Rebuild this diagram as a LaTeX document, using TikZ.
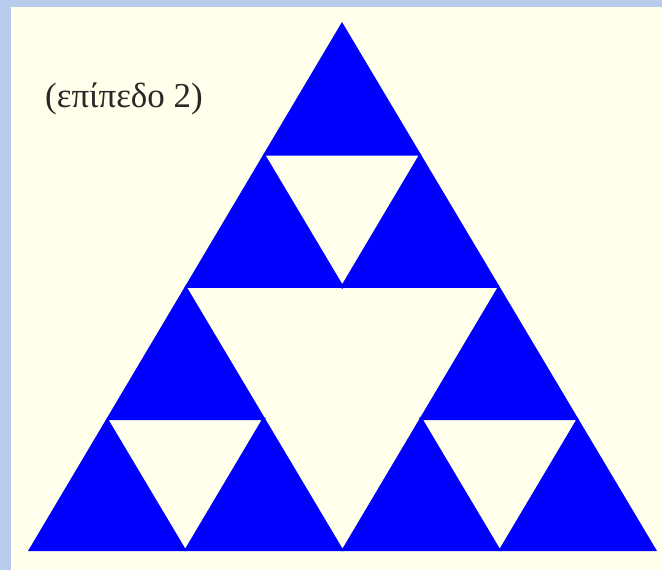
\documentclass[tikz,border=0pt]{standalone}
\usepackage{fontspec}
\setmainfont{Liberation Serif}
\usetikzlibrary{calc}
\definecolor{frameblue}{RGB}{184,204,236}
\definecolor{cream}{RGB}{255,255,236}
\definecolor{sblue}{RGB}{0,0,255}
\definecolor{txt}{RGB}{40,40,40}
\tikzset{
  hole/.style={fill=cream, draw=sblue, line width=2.5pt, line join=miter},
  solid/.style={fill=sblue}
}
\begin{document}
\begin{tikzpicture}[x=1pt,y=-1pt]
\useasboundingbox (0,0) rectangle (662,570);
\fill[frameblue] (0,0) rectangle (662,570);
\fill[cream] (11,7) rectangle (662,570);
% outer triangle
\coordinate (A) at (342,22);
\coordinate (B) at (28,551);
\coordinate (C) at (657,551);
\coordinate (ab) at ($(A)!0.5!(B)$);
\coordinate (bc) at ($(B)!0.5!(C)$);
\coordinate (ca) at ($(C)!0.5!(A)$);
\fill[solid] (A) -- (B) -- (C) -- cycle;
\begin{scope}
\clip (A) -- (B) -- (C) -- cycle;
% level 1 hole
\draw[hole] (ab) -- (bc) -- (ca) -- cycle;
% level 2 holes
\draw[hole] ($(A)!0.5!(ab)$) -- ($(ab)!0.5!(ca)$) -- ($(ca)!0.5!(A)$) -- cycle;
\draw[hole] ($(ab)!0.5!(B)$) -- ($(B)!0.5!(bc)$) -- ($(bc)!0.5!(ab)$) -- cycle;
\draw[hole] ($(ca)!0.5!(bc)$) -- ($(bc)!0.5!(C)$) -- ($(C)!0.5!(ca)$) -- cycle;
\end{scope}
\node[text=txt, font=\fontsize{35}{40}\selectfont, inner sep=0pt] (lbl) at (124,99) {(επίπεδο 2)};
\end{tikzpicture}
\end{document}
